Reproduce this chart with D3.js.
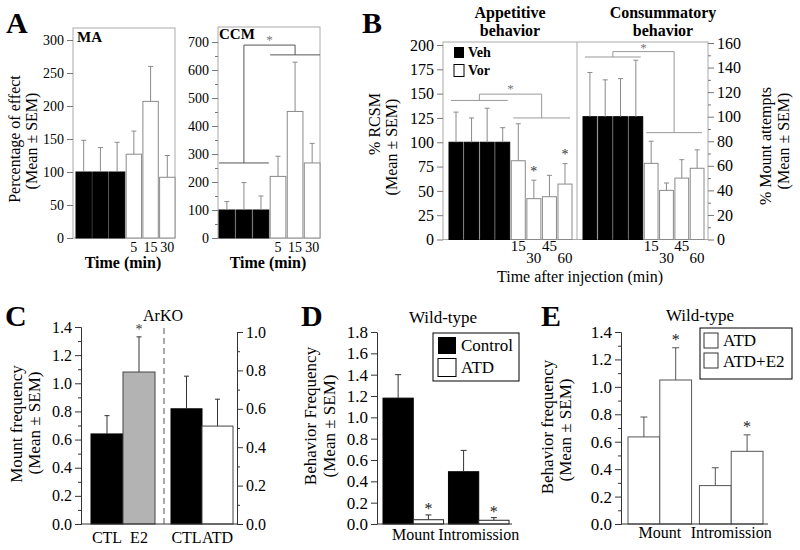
<!DOCTYPE html>
<html lang="en">
<head>
<meta charset="UTF-8">
<title>Figure</title>
<style>
  body { margin: 0; background: #fff; }
  svg { display: block; font-family: "Liberation Serif", "Times New Roman", serif; }
</style>
</head>
<body>
<svg id="chart" width="800" height="550"></svg>
<script src="https://cdn.jsdelivr.net/npm/d3@7"></script>
<script>
// ---- data ----
// A: percentage of effect, veh x3 then vor at 5/15/30 min
const timeA = ['', '', '', '5', '15', '30'];
const maMean = [100, 100, 100, 127, 207, 92];
const maSem = [48, 37, 45, 35, 53, 33];
const ccmMean = [100, 100, 100, 220, 452, 268];
const ccmSem = [30, 98, 50, 72, 176, 70];

// B: appetitive (% RCSM, left axis) / consummatory (% mount attempts, right axis)
const timeB = ['', '', '', '', '15', '30', '45', '60'];
const appMean = [100, 100, 100, 100, 81, 42, 44, 57];
const appSem = [31, 25, 35, 15, 38, 19, 22, 21];
const conMean = [100, 100, 100, 100, 62, 40, 50, 58];
const conSem = [36, 30, 31, 46, 18, 6, 15, 15];

// C: ArKO mount frequency
const arkoLeft = ['CTL', 'E2'];
const arkoLeftMean = [0.64, 1.08];
const arkoLeftSem = [0.13, 0.25];
const arkoRight = ['CTL', 'ATD'];
const arkoRightMean = [0.60, 0.51];
const arkoRightSem = [0.17, 0.14];

// D / E: wild-type
const behaviors = ['Mount', 'Intromission'];
const dControl = [1.18, 0.49];
const dControlSem = [0.22, 0.20];
const dAtd = [0.04, 0.035];
const dAtdSem = [0.045, 0.025];
const eAtd = [0.635, 0.28];
const eAtdSem = [0.145, 0.13];
const eAtdE2 = [1.05, 0.53];
const eAtdE2Sem = [0.235, 0.12];

const svg = d3.select('#chart');
const LINE = '#8a8a8a';

function txt(x, y, s, size, opts = {}) {
  return svg.append('text').attr('x', x).attr('y', y).text(s)
    .attr('font-size', size)
    .attr('font-weight', opts.bold ? 'bold' : null)
    .attr('text-anchor', opts.anchor || 'start')
    .attr('fill', opts.fill || '#000');
}

// rotated axis title, baseline at x
function vtitle(x, y, s, size) {
  svg.append('text').attr('transform', `translate(${x},${y}) rotate(-90)`)
    .attr('text-anchor', 'middle').attr('font-size', size).text(s);
}

function yAxis(scale, x, major, minor, size, opts = {}) {
  const make = opts.right ? d3.axisRight : d3.axisLeft;
  const g = svg.append('g').attr('transform', `translate(${x},0)`);
  if (minor) {
    g.append('g').call(make(scale).tickValues(minor).tickSize(3).tickFormat('').tickSizeOuter(0));
  }
  g.append('g').call(make(scale).tickValues(major).tickSize(opts.tick || 6).tickPadding(3)
    .tickSizeOuter(0).tickFormat(opts.fmt || d3.format('d')));
  g.selectAll('g').attr('font-family', null).attr('font-size', size);
  g.selectAll('line, .domain').attr('stroke', opts.color || '#000');
  if (opts.noDomain) g.selectAll('.domain').remove();
  g.selectAll('text').attr('fill', '#000');
  return g;
}

// bars with upward error bars
function bars(xPos, width, y, means, sems, fills, strokes, errColor, cap) {
  const g = svg.append('g');
  const d = means.map((m, i) => ({ m, s: sems[i], i }));
  g.selectAll('rect').data(d).join('rect')
    .attr('x', p => xPos(p.i)).attr('width', width)
    .attr('y', p => y(p.m)).attr('height', p => y(0) - y(p.m))
    .attr('fill', p => fills[p.i]).attr('stroke', p => strokes[p.i]);
  g.selectAll('line.v').data(d).join('line').attr('class', 'v')
    .attr('x1', p => xPos(p.i) + width / 2).attr('x2', p => xPos(p.i) + width / 2)
    .attr('y1', p => y(p.m)).attr('y2', p => y(p.m + p.s)).attr('stroke', errColor);
  g.selectAll('line.c').data(d).join('line').attr('class', 'c')
    .attr('x1', p => xPos(p.i) + width / 2 - cap / 2).attr('x2', p => xPos(p.i) + width / 2 + cap / 2)
    .attr('y1', p => y(p.m + p.s)).attr('y2', p => y(p.m + p.s)).attr('stroke', errColor);
}

function star(x, yTop, size, fill) {
  txt(x, yTop + size * 0.25, '*', size, { anchor: 'middle', fill: fill || '#000' });
}

function line(x1, y1, x2, y2, color, dash) {
  svg.append('line').attr('x1', x1).attr('y1', y1).attr('x2', x2).attr('y2', y2)
    .attr('stroke', color).attr('stroke-dasharray', dash || null);
}

// significance bracket between two groups of bars
function bracket(x, y, a, b, lvA, lvB, top, color, inset) {
  const xa0 = x(a[0]) + inset, xa1 = x(a[1]) + x.bandwidth() - inset;
  const xb0 = x(b[0]) + inset, xb1 = x(b[1]) + x.bandwidth() - inset;
  const ca = (x(a[0]) + x(a[1]) + x.bandwidth()) / 2;
  const cb = (x(b[0]) + x(b[1]) + x.bandwidth()) / 2;
  line(xa0, y(lvA), xa1, y(lvA), color);
  line(xb0, y(lvB), xb1, y(lvB), color);
  line(ca, y(lvA), ca, y(top), color);
  line(cb, y(lvB), cb, y(top), color);
  line(ca, y(top), cb, y(top), color);
  return (ca + cb) / 2;
}

const vehVor = i => (i < 3 ? '#000' : '#fff');
const vehVorStroke = i => (i < 3 ? '#000' : LINE);

// ================= Panel A =================
txt(6, 33, 'A', 30, { bold: true });
vtitle(20, 139, 'Percentage of effect', 16);
vtitle(37, 141, '(Mean \u00b1 SEM)', 16);

// MA
const xMA = d3.scaleBand().domain(d3.range(6)).range([76, 175]).paddingInner(0.08);
const yMA = d3.scaleLinear().domain([0, 300]).range([238, 40]);
svg.append('rect').attr('x', 73).attr('y', 28).attr('width', 102).attr('height', 210)
  .attr('fill', 'none').attr('stroke', '#aaa');
bars(i => xMA(i), xMA.bandwidth(), yMA, maMean, maSem,
  d3.range(6).map(vehVor), d3.range(6).map(vehVorStroke), LINE, 5);
yAxis(yMA, 73, d3.range(0, 301, 50), null, 14, { color: '#777', noDomain: true });
txt(77, 42, 'MA', 15, { bold: true });
timeA.forEach((t, i) => txt(xMA(i) + xMA.bandwidth() / 2, 252, t, 14, { anchor: 'middle' }));
txt(123, 268, 'Time (min)', 16, { bold: true, anchor: 'middle' });

// CCM
const xCCM = d3.scaleBand().domain(d3.range(6)).range([219, 320]).paddingInner(0.08);
const yCCM = d3.scaleLinear().domain([0, 700]).range([238, 42]);
svg.append('rect').attr('x', 218).attr('y', 27).attr('width', 102).attr('height', 211)
  .attr('fill', 'none').attr('stroke', '#aaa');
bars(i => xCCM(i), xCCM.bandwidth(), yCCM, ccmMean, ccmSem,
  d3.range(6).map(vehVor), d3.range(6).map(vehVorStroke), LINE, 5);
yAxis(yCCM, 218, d3.range(0, 701, 100), d3.range(50, 700, 100), 14, { color: '#777', noDomain: true });
txt(219, 39, 'CCM', 15, { bold: true });
const ccmStar = bracket(xCCM, yCCM, [0, 2], [3, 5], 268, 654, 689, '#555', 0);
star(ccmStar, yCCM(689) - 4, 13, '#777');
timeA.forEach((t, i) => txt(xCCM(i) + xCCM.bandwidth() / 2, 252, t, 14, { anchor: 'middle' }));
txt(268, 268, 'Time (min)', 16, { bold: true, anchor: 'middle' });

// ================= Panel B =================
txt(362, 33, 'B', 30, { bold: true });
const xApp = d3.scaleBand().domain(d3.range(8)).range([449, 572]).paddingInner(0.1);
const xCon = d3.scaleBand().domain(d3.range(8)).range([583, 704]).paddingInner(0.1);
const yL = d3.scaleLinear().domain([0, 200]).range([239.5, 45]);
const yR = d3.scaleLinear().domain([0, 160]).range([239.5, 43]);
svg.append('rect').attr('x', 443).attr('y', 42).attr('width', 265).attr('height', 197.5)
  .attr('fill', 'none').attr('stroke', '#aaa');
line(577, 42, 577, 239.5, '#aaa');
const vehB = i => (i < 4 ? '#000' : '#fff');
const vehBStroke = i => (i < 4 ? '#000' : LINE);
bars(i => xApp(i), xApp.bandwidth(), yL, appMean, appSem,
  d3.range(8).map(vehB), d3.range(8).map(vehBStroke), LINE, 5);
bars(i => xCon(i), xCon.bandwidth(), yR, conMean, conSem,
  d3.range(8).map(vehB), d3.range(8).map(vehBStroke), LINE, 5);
yAxis(yL, 443, d3.range(0, 201, 25), null, 16, { color: '#777', noDomain: true });
yAxis(yR, 708, d3.range(0, 161, 20), d3.range(10, 160, 20), 16, { right: true, color: '#777', noDomain: true });
const appStar = bracket(xApp, yL, [0, 3], [4, 7], 143, 125, 149.5, '#999', 2);
star(appStar, yL(149.5) - 4, 13, '#777');
const conStar = bracket(xCon, yR, [0, 3], [4, 7], 148.6, 87, 153, '#999', 2);
star(conStar, yR(153) - 3, 13, '#777');
[5, 7].forEach(i => star(xApp(i) + xApp.bandwidth() / 2, yL(appMean[i] + appSem[i]) - 8, 14, '#333'));

// legend
svg.append('rect').attr('x', 454).attr('y', 47).attr('width', 10).attr('height', 11).attr('fill', '#000');
svg.append('rect').attr('x', 454).attr('y', 64.5).attr('width', 10).attr('height', 12)
  .attr('fill', '#fff').attr('stroke', '#000');
txt(468, 57, 'Veh', 14, { bold: true });
txt(468, 75, 'Vor', 14, { bold: true });

[xApp, xCon].forEach(x => timeB.forEach((t, i) =>
  txt(x(i) + x.bandwidth() / 2, i % 2 ? 263 : 251, t, 15, { anchor: 'middle' })));
txt(580, 282, 'Time after injection (min)', 16, { anchor: 'middle' });
txt(510, 18, 'Appetitive', 16, { bold: true, anchor: 'middle' });
txt(510, 36, 'behavior', 16, { bold: true, anchor: 'middle' });
txt(663, 18, 'Consummatory', 16, { bold: true, anchor: 'middle' });
txt(663, 36, 'behavior', 16, { bold: true, anchor: 'middle' });
vtitle(380, 124, '% RCSM', 16);
vtitle(397, 147, '(Mean \u00b1 SEM)', 16);
vtitle(771, 146, '% Mount attempts', 16);
vtitle(789, 141, '(Mean \u00b1 SEM)', 16);

// ================= Panel C =================
txt(5, 326, 'C', 30, { bold: true });
const yC = d3.scaleLinear().domain([0, 1.4]).range([524, 327]);
const yC2 = d3.scaleLinear().domain([0, 1.0]).range([524, 332]);
const xCL = d3.scaleBand().domain(arkoLeft).range([91, 155]);
const xCR = d3.scaleBand().domain(d3.range(2)).range([171, 233]);
bars(i => xCL(arkoLeft[i]), xCL.bandwidth(), yC, arkoLeftMean, arkoLeftSem,
  ['#000', '#b3b3b3'], ['#000', '#444'], '#333', 5);
bars(i => xCR(i), xCR.bandwidth(), yC2, arkoRightMean, arkoRightSem,
  ['#000', '#fff'], ['#000', '#444'], '#333', 5);
yAxis(yC, 81, d3.range(0, 1.41, 0.2), d3.range(0.1, 1.4, 0.2), 16, { fmt: d3.format('.1f'), color: '#333' });
yAxis(yC2, 237, d3.range(0, 1.01, 0.2), d3.range(0.1, 1.0, 0.2), 16, { right: true, fmt: d3.format('.1f'), color: '#333' });
line(81, 524, 237, 524, '#333');
line(164, 328, 164, 524, '#555', '6,4');
star(xCL('E2') + xCL.bandwidth() / 2, yC(arkoLeftMean[1] + arkoLeftSem[1]) - 6, 14, '#333');
arkoLeft.forEach(c => txt(xCL(c) + xCL.bandwidth() / 2, 543, c, 16, { anchor: 'middle' }));
arkoRight.forEach((c, i) => txt(xCR(i) + xCR.bandwidth() / 2, 543, c, 16, { anchor: 'middle' }));
txt(163, 321, 'ArKO', 16, { anchor: 'middle' });
vtitle(22, 424, 'Mount frequency', 17);
vtitle(40, 423, '(Mean \u00b1 SEM)', 17);

// ================= Panel D =================
txt(301, 326, 'D', 30, { bold: true });
const yD = d3.scaleLinear().domain([0, 1.8]).range([524, 332]);
const xD = d3.scaleBand().domain(behaviors).range([383, 509]).paddingInner(0.075);
const xDin = d3.scaleBand().domain(['Control', 'ATD']).range([0, xD.bandwidth()]);
bars(i => xD(behaviors[i]), xDin.bandwidth(), yD, dControl, dControlSem,
  ['#000', '#000'], ['#000', '#000'], '#333', 6);
bars(i => xD(behaviors[i]) + xDin('ATD'), xDin.bandwidth(), yD, dAtd, dAtdSem,
  ['#fff', '#fff'], ['#222', '#222'], '#333', 6);
yAxis(yD, 377, d3.range(0, 1.81, 0.2), null, 17, { fmt: d3.format('.1f'), color: '#333' });
line(377, 524, 512, 524, '#333');
behaviors.forEach((b, i) => star(xD(b) + xDin('ATD') + xDin.bandwidth() / 2, yD(dAtd[i] + dAtdSem[i]) - 5, 16, '#222'));
svg.append('rect').attr('x', 433).attr('y', 333).attr('width', 86).attr('height', 48)
  .attr('fill', '#fff').attr('stroke', '#000');
svg.append('rect').attr('x', 438).attr('y', 337).attr('width', 18).attr('height', 17).attr('fill', '#000');
svg.append('rect').attr('x', 438).attr('y', 358.5).attr('width', 18).attr('height', 18)
  .attr('fill', '#fff').attr('stroke', '#000');
txt(461, 351, 'Control', 17);
txt(461, 373, 'ATD', 17);
behaviors.forEach(b => txt(xD(b) + xD.bandwidth() / 2, 540, b, 16, { anchor: 'middle' }));
txt(443, 323, 'Wild-type', 17, { anchor: 'middle' });
vtitle(316, 416, 'Behavior Frequency', 17);
vtitle(335, 426, '(Mean \u00b1 SEM)', 17);

// ================= Panel E =================
txt(541, 326, 'E', 30, { bold: true });
const yE = d3.scaleLinear().domain([0, 1.4]).range([524, 332]);
const xE = d3.scaleBand().domain(behaviors).range([628, 763]).paddingInner(0.11);
const xEin = d3.scaleBand().domain(['ATD', 'ATD+E2']).range([0, xE.bandwidth()]);
bars(i => xE(behaviors[i]), xEin.bandwidth(), yE, eAtd, eAtdSem,
  ['#fff', '#fff'], ['#555', '#555'], '#555', 7);
bars(i => xE(behaviors[i]) + xEin('ATD+E2'), xEin.bandwidth(), yE, eAtdE2, eAtdE2Sem,
  ['#fff', '#fff'], ['#555', '#555'], '#555', 7);
yAxis(yE, 621, d3.range(0, 1.41, 0.2), d3.range(0.1, 1.4, 0.2), 17, { fmt: d3.format('.1f'), color: '#333' });
line(621, 524, 768, 524, '#333');
behaviors.forEach((b, i) => star(xE(b) + xEin('ATD+E2') + xEin.bandwidth() / 2, yE(eAtdE2[i] + eAtdE2Sem[i]) - 7, 16, '#222'));
svg.append('rect').attr('x', 700).attr('y', 328).attr('width', 92).attr('height', 51)
  .attr('fill', '#fff').attr('stroke', '#000');
svg.append('rect').attr('x', 704).attr('y', 333).attr('width', 14).attr('height', 15)
  .attr('fill', '#fff').attr('stroke', '#333');
svg.append('rect').attr('x', 704).attr('y', 353).attr('width', 14).attr('height', 15)
  .attr('fill', '#fff').attr('stroke', '#333');
txt(723, 346, 'ATD', 17);
txt(723, 367, 'ATD+E2', 17);
behaviors.forEach(b => txt(xE(b) + xE.bandwidth() / 2, 538, b, 16, { anchor: 'middle' }));
txt(700, 321, 'Wild-type', 17, { anchor: 'middle' });
vtitle(553, 427, 'Behavior frequency', 17);
vtitle(571, 430, '(Mean \u00b1 SEM)', 17);
</script>
</body>
</html>
